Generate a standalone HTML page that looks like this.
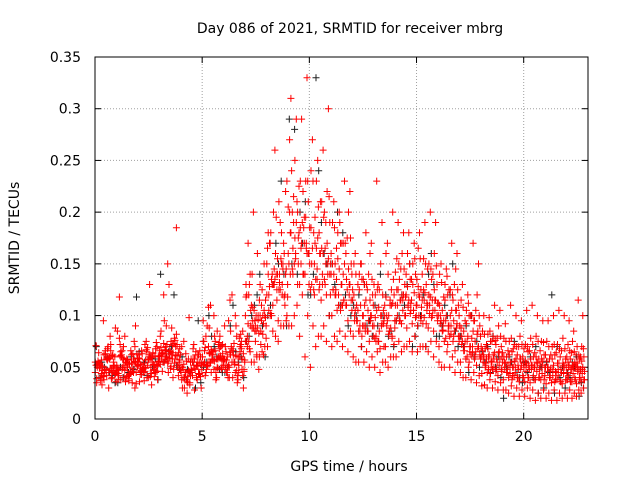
<!DOCTYPE html>
<html>
<head>
<meta charset="utf-8">
<style>
  html,body{margin:0;padding:0;background:#fff;}
  svg{display:block;}
  text{font-family:"DejaVu Sans","Liberation Sans",sans-serif;font-size:14px;fill:#000;}
</style>
</head>
<body>
<svg id="chart" width="640" height="480" viewBox="0 0 640 480">
  <text x="350" y="33" text-anchor="middle">Day 086 of 2021, SRMTID for receiver mbrg</text>
  <text x="349" y="471" text-anchor="middle">GPS time / hours</text>
  <text transform="translate(19,238) rotate(-90)" text-anchor="middle">SRMTID / TECUs</text>
  <g id="grid"></g>
  <g id="ticks"></g>
  <g id="black-series"></g>
  <g id="red-series"></g>
  <rect x="95" y="57" width="493" height="362" fill="none" stroke="#000" stroke-width="1"/>
</svg>
<script>
// ---- data ----
const xTicks = [0, 5, 10, 15, 20];
const yTicks = [0, 0.05, 0.1, 0.15, 0.2, 0.25, 0.3, 0.35];
const yTickLabels = ["0", "0.05", "0.1", "0.15", "0.2", "0.25", "0.3", "0.35"];
// red series, milli-TECU, 32 samples per hour (hours 0..22)
const redMilli = [
[45,38,62,52,30,71,48,55,40,58,35,66,50,44,80,53,47,60,33,72,56,42,88,51,39,64,57,45,95,61,49,70],
[52,36,75,60,44,85,55,30,48,66,38,58,90,50,62,42,57,34,70,46,118,54,63,40,49,72,37,59,80,45,65,53],
[55,40,68,48,33,62,52,74,45,60,36,57,70,50,64,43,58,38,72,53,46,130,61,49,52,66,41,56,75,47,63,59],
[60,45,72,55,40,80,63,50,58,48,85,66,42,70,54,62,65,50,90,58,46,75,68,60,70,55,88,62,150,185,120,58],
[50,35,62,45,28,70,42,55,38,48,30,58,44,25,65,40,45,60,35,52,75,42,30,58,55,40,68,48,98,62,45,72],
[60,45,80,52,38,95,58,70,55,40,75,62,48,108,50,66,65,50,88,58,42,100,72,55,60,45,80,52,110,68,48,75],
[58,40,75,52,35,90,62,48,50,38,70,55,42,115,45,65,55,30,85,60,45,100,48,68,65,45,90,55,120,72,40,80],
[75,55,100,65,48,130,85,62,90,60,120,75,150,55,100,80,100,70,140,85,170,60,115,95,110,75,160,90,200,65,130,100],
[120,80,160,100,190,70,140,110,130,90,180,115,220,85,150,120,140,95,200,120,170,75,230,130,150,100,210,130,260,90,180,140],
[160,110,230,140,290,90,200,170,190,120,270,150,330,100,220,180,180,100,250,140,310,80,210,160,170,90,230,130,290,60,200,150],
[150,80,220,120,260,50,180,140,170,90,240,130,300,70,200,150,160,100,230,130,270,80,190,145,150,90,210,120,250,75,180,130],
[140,85,200,120,230,70,170,130,135,80,190,110,220,75,160,125,130,85,180,110,210,70,150,120,125,80,170,105,200,65,150,115],
[115,70,160,95,180,60,135,100,105,65,150,90,170,55,125,95,100,60,140,85,160,55,120,90,95,55,130,80,150,50,110,85],
[90,55,125,75,170,50,105,80,85,50,120,70,200,45,100,75,100,60,150,85,230,55,120,90,110,65,160,95,190,60,130,100],
[110,70,150,95,180,60,130,105,115,75,155,100,170,65,135,110,120,80,160,105,190,70,140,115,115,75,160,100,180,65,135,110],
[110,70,160,100,200,65,130,115,115,75,165,105,190,70,135,120,110,75,155,100,180,65,130,115,105,70,150,95,190,60,125,110],
[100,65,145,90,170,55,120,105,95,60,140,85,160,50,115,100,90,55,130,80,150,50,110,95,85,50,125,75,145,45,105,90],
[80,50,120,70,170,45,100,85,75,45,115,65,150,40,95,80,70,42,105,60,130,38,90,75,65,40,100,58,120,35,85,70],
[60,38,90,52,110,32,75,65,58,36,85,50,105,30,72,62,55,35,82,48,100,30,70,60,55,33,80,46,98,28,68,58],
[55,32,80,45,100,28,65,58,52,30,78,42,95,25,62,55,50,28,75,40,92,22,60,52,48,28,72,40,110,22,60,50],
[50,28,75,40,100,22,60,52,48,25,72,38,95,20,58,50,50,28,78,40,105,18,62,52,52,30,80,42,110,20,65,55],
[50,28,78,40,105,20,62,52,48,25,75,38,100,18,60,50,45,25,70,36,95,18,58,48,45,25,72,38,100,20,58,48],
[45,25,70,36,115,20,55,48,48,28,72,38,100,20,58,50,50,30,75,40,95,22,60,52,48,28,70,38,85,25,58,50]
];
// second red sample set (dense core), milli-TECU, 32 per hour
const redMilli2 = [
[50,42,58,47,36,54,62,45,51,39,57,48,66,44,53,41,59,46,52,37,63,49,43,56,47,68,40,55,50,45,60,52],
[48,57,42,63,51,38,55,46,70,44,59,50,35,53,61,47,43,56,49,66,41,54,45,78,52,39,58,47,62,50,44,55],
[53,46,60,41,56,49,65,44,52,58,37,62,48,55,43,67,50,45,59,54,40,63,51,47,57,44,61,52,48,69,55,46],
[58,66,51,62,47,73,56,64,52,69,60,49,76,57,63,54,71,61,53,67,59,78,55,64,72,62,82,66,95,130,73,64],
[48,41,55,38,52,45,33,58,43,50,36,47,40,54,30,46,52,44,38,56,48,62,41,53,47,58,51,45,63,55,49,66],
[55,64,48,72,58,51,67,45,61,53,70,57,49,63,80,54,66,59,75,52,62,85,57,69,63,56,74,60,90,65,58,71],
[52,62,45,70,57,50,66,42,58,48,64,53,78,46,60,55,47,68,58,40,73,52,63,57,70,61,82,56,95,66,60,85],
[70,88,62,95,78,68,105,83,92,75,110,85,72,98,120,88,96,82,118,105,90,130,100,92,108,88,125,100,140,95,115,105],
[105,130,95,145,118,102,160,125,120,140,110,155,130,100,170,135,132,118,165,140,125,180,145,128,145,125,170,150,135,195,155,140],
[140,175,130,195,160,145,210,170,165,200,150,225,185,160,240,190,165,195,150,215,175,140,230,180,155,185,140,205,165,130,190,160],
[130,165,115,190,150,125,205,160,150,185,135,210,165,140,230,175,140,170,125,195,160,135,215,165,135,165,120,185,150,125,195,155],
[125,155,110,175,140,120,190,150,120,150,105,170,135,115,185,145,115,145,100,165,130,110,175,140,110,140,95,160,125,105,170,130],
[100,125,90,140,110,95,150,115,95,120,85,135,105,90,140,110,90,115,80,130,100,85,135,105,85,110,75,125,95,80,130,100],
[80,100,70,115,88,75,120,95,78,98,68,110,85,72,125,92,90,110,78,125,95,82,135,105,100,118,88,130,108,92,140,112],
[100,120,88,135,110,95,145,115,105,125,92,140,112,98,150,120,108,130,95,145,118,102,155,125,105,128,92,142,115,100,150,122],
[100,125,88,140,112,95,150,118,105,128,92,145,115,100,155,122,102,125,90,140,112,98,148,118,98,120,85,135,108,92,145,115],
[92,115,80,130,100,85,138,105,88,110,75,125,95,80,132,100,82,105,70,118,90,75,125,95,78,100,66,112,86,72,120,92],
[72,92,62,105,80,66,112,85,68,88,58,100,75,62,108,80,64,82,55,95,70,58,100,75,60,78,52,90,66,55,95,70],
[55,68,48,78,60,50,85,64,52,66,45,75,58,48,82,62,50,64,44,72,56,46,80,60,48,62,42,70,54,44,76,58],
[50,62,42,70,54,45,78,58,48,60,40,68,52,42,75,55,45,58,38,66,50,40,72,54,44,56,36,64,48,38,70,52],
[46,58,38,66,50,40,72,54,44,56,35,64,48,38,70,52,46,58,36,66,50,40,74,54,48,60,38,68,52,42,75,56],
[46,58,38,66,50,40,72,54,44,56,35,64,48,38,70,52,42,54,34,62,46,36,68,50,42,54,34,62,46,36,68,50],
[42,52,34,60,46,36,65,48,44,55,36,62,48,38,66,50,46,56,38,64,50,40,68,52,44,54,36,60,48,40,62,50]
];
// black series, milli-TECU, 8 samples per hour
const blackMilli = [
[40,60,35,55,45,70,50,42],[50,45,118,40,60,35,55,48],[45,60,38,55,50,65,42,58],[55,70,48,60,120,140,65,52],
[40,55,35,48,30,60,45,95],[55,70,45,100,60,50,80,48],[50,65,40,90,55,45,110,60],[80,120,60,100,140,75,110,90],
[110,150,90,130,230,100,170,140],[150,200,120,280,170,290,140,210],[140,190,100,330,160,120,240,150],
[130,180,100,200,120,150,110,90],[100,130,80,120,90,110,70,95],[90,120,70,140,80,110,100,85],
[100,130,80,120,150,95,110,70],[100,140,80,120,160,90,70,130],[90,120,70,110,150,80,100,85],
[70,100,50,90,60,80,45,75],[55,80,40,70,50,65,45,60],[50,75,35,60,45,20,55,40],
[45,70,30,60,25,55,40,50],[45,70,30,120,40,55,25,50],[40,60,30,55,22,45,50,35]
];
const END_TIME = 22.85;
// ---- axes ----
const X0 = 95, X1 = 588, Y0 = 419, Y1 = 57, XMAX = 23, YMAX = 0.35;
const xScale = t => X0 + (t / XMAX) * (X1 - X0);
const yScale = v => Y0 - (v / YMAX) * (Y0 - Y1);
const NS = "http://www.w3.org/2000/svg";
const grid = document.getElementById("grid");
const ticks = document.getElementById("ticks");
function mk(tag, attrs, parent) {
  const e = document.createElementNS(NS, tag);
  for (const k in attrs) e.setAttribute(k, attrs[k]);
  parent.appendChild(e);
  return e;
}
yTicks.forEach((v, i) => {
  const y = yScale(v);
  if (i > 0 && i < yTicks.length - 1) {
    const g = mk("line", {x1: X0, x2: X1, y1: y, y2: y, stroke: "#a0a0a0", "stroke-dasharray": "1,2"}, grid);
    
    
  }
  mk("line", {x1: X0, x2: X0 + 6, y1: y, y2: y, stroke: "#000"}, ticks);
  mk("line", {x1: X1, x2: X1 - 6, y1: y, y2: y, stroke: "#000"}, ticks);
  const t = mk("text", {x: X0 - 14, y: y + 5, "text-anchor": "end"}, ticks);
  t.textContent = yTickLabels[i];
  
  
});
xTicks.forEach(v => {
  const x = xScale(v);
  if (v > 0) {
    const g = mk("line", {x1: x, x2: x, y1: Y0, y2: Y1, stroke: "#a0a0a0", "stroke-dasharray": "1,2"}, grid);
    
    
  }
  mk("line", {x1: x, x2: x, y1: Y0, y2: Y0 - 6, stroke: "#000"}, ticks);
  mk("line", {x1: x, x2: x, y1: Y1, y2: Y1 + 6, stroke: "#000"}, ticks);
  const t = mk("text", {x: x, y: Y0 + 22, "text-anchor": "middle"}, ticks);
  t.textContent = String(v);
  
  
});
// ---- series ----
function drawSeries(data, groupId, color, name, mult, shift) {
  const g = document.getElementById(groupId);
  let d = "";
  data.forEach((row, h) => {
    const span = Math.min(1, END_TIME - h);
    const n = row.length;
    row.forEach((m, i) => {
      const slot = (i * mult + shift) % n;
      const x = xScale(h + span * (slot + 0.5) / n);
      const y = yScale(m / 1000);
      d += "M" + (x - 3.5).toFixed(1) + " " + y.toFixed(1) + "h7M" + x.toFixed(1) + " " + (y - 3.5).toFixed(1) + "v7";
    });
  });
  const p = mk("path", {d: d, stroke: color, "stroke-width": 1, fill: "none"}, g);
  
  
}
drawSeries(blackMilli, "black-series", "#202020", "black-points", 3, 1);
drawSeries(redMilli, "red-series", "#ff0000", "red-points", 13, 0);
drawSeries(redMilli2, "red-series", "#ff0000", "red-points-dense", 7, 3);
</script>
</body>
</html>
